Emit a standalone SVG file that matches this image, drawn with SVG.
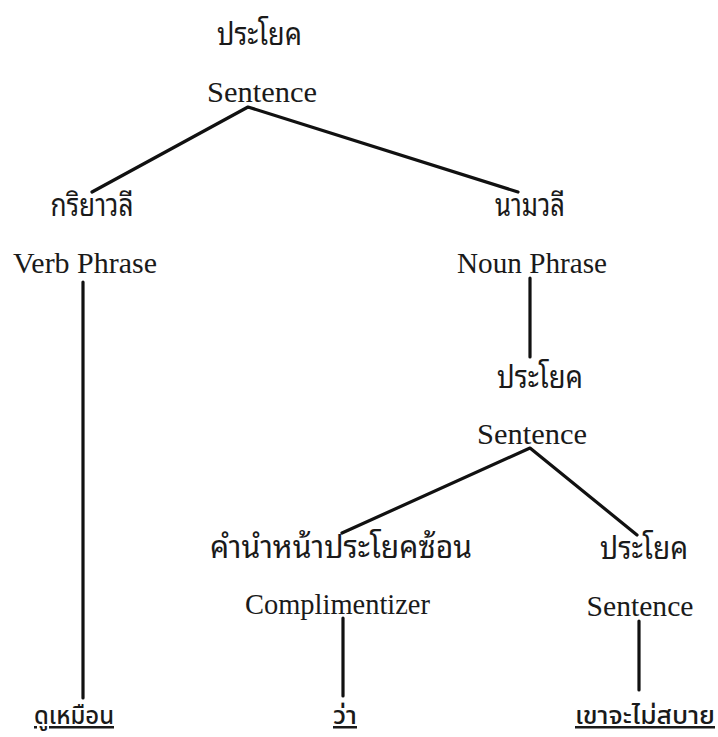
<svg xmlns="http://www.w3.org/2000/svg" width="718" height="737" viewBox="0 0 718 737">
<style>
  .th { font-family: "Noto Sans Thai Looped", "Noto Sans Thai", "Noto Serif Thai", "Loma", "Garuda", "Norasi", sans-serif; font-size: 31px; fill: #1a1a1a; text-anchor: middle; }
  .en { font-family: "Liberation Serif", "Times New Roman", serif; font-size: 29px; fill: #1a1a1a; text-anchor: middle; }
  .leaf { font-family: "Noto Sans Thai", "Loma", "Garuda", sans-serif; font-size: 25px; font-weight: 500; fill: #1a1a1a; text-anchor: middle; text-decoration: underline; }
  .edge { stroke: #111; stroke-width: 3.2; fill: none; stroke-linecap: round; stroke-linejoin: round; }
</style>
<rect width="718" height="737" fill="#ffffff"/>
<g id="connectors">
  <polyline class="edge" points="92,192 248,107 518,192"/>
  <line class="edge" x1="83" y1="282" x2="83" y2="698"/>
  <line class="edge" x1="530" y1="278" x2="530" y2="357"/>
  <polyline class="edge" points="342,533 530,448 637,535"/>
  <line class="edge" x1="343" y1="618" x2="343" y2="696"/>
  <line class="edge" x1="639" y1="621" x2="639" y2="690"/>
</g>
<g id="s-root">
  <text class="th" x="259.5" y="45" textLength="85" lengthAdjust="spacingAndGlyphs">ประโยค</text>
  <text class="en" x="262" y="102" textLength="110" lengthAdjust="spacingAndGlyphs">Sentence</text>
</g>
<g id="vp">
  <text class="th" x="92" y="216" textLength="83" lengthAdjust="spacingAndGlyphs">กริยาวลี</text>
  <text class="en" x="85" y="273" textLength="144" lengthAdjust="spacingAndGlyphs">Verb Phrase</text>
</g>
<g id="np">
  <text class="th" x="530" y="216" textLength="70" lengthAdjust="spacingAndGlyphs">นามวลี</text>
  <text class="en" x="532" y="273" textLength="150" lengthAdjust="spacingAndGlyphs">Noun Phrase</text>
</g>
<g id="s-mid">
  <text class="th" x="540" y="388" textLength="86" lengthAdjust="spacingAndGlyphs">ประโยค</text>
  <text class="en" x="532" y="444" textLength="110" lengthAdjust="spacingAndGlyphs">Sentence</text>
</g>
<g id="comp">
  <text class="th" x="341" y="558" textLength="262" lengthAdjust="spacingAndGlyphs">คำนำหน้าประโยคซ้อน</text>
  <text class="en" x="337.5" y="614" textLength="185" lengthAdjust="spacingAndGlyphs">Complimentizer</text>
</g>
<g id="s-right">
  <text class="th" x="644" y="559" textLength="88" lengthAdjust="spacingAndGlyphs">ประโยค</text>
  <text class="en" x="640" y="616" textLength="107" lengthAdjust="spacingAndGlyphs">Sentence</text>
</g>
<g id="leaf-1">
  <text class="leaf" x="74" y="724" textLength="80" lengthAdjust="spacingAndGlyphs">ดูเหมือน</text>
</g>
<g id="leaf-2">
  <text class="leaf" x="345" y="724" textLength="24" lengthAdjust="spacingAndGlyphs">ว่า</text>
</g>
<g id="leaf-3">
  <text class="leaf" x="645" y="724" textLength="140" lengthAdjust="spacingAndGlyphs">เขาจะไม่สบาย</text>
</g>
</svg>
